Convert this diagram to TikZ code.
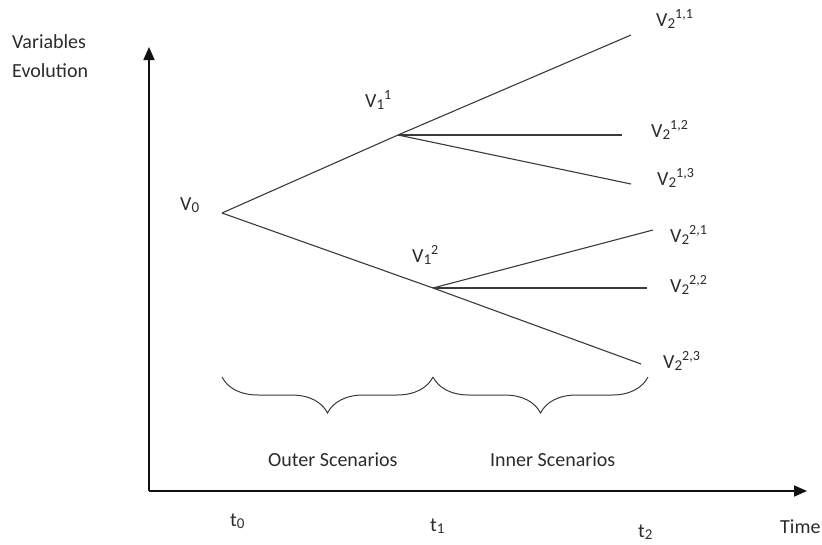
\documentclass[tikz,border=0pt]{standalone}
\usepackage{fontspec}
\setmainfont{Carlito}
\usetikzlibrary{arrows.meta,decorations.pathreplacing}
\definecolor{axisblack}{HTML}{111111}
\definecolor{branchgray}{HTML}{3A3A3A}
\definecolor{labelink}{HTML}{2B2B2B}
\newcommand{\vlo}[1]{\raisebox{-2pt}{\fontsize{15}{15}\selectfont #1}}
\newcommand{\vhi}[1]{\raisebox{8pt}{\fontsize{14}{14}\selectfont #1}}

\begin{document}
\begin{tikzpicture}[
  x=1pt, y=-1pt,
  every node/.style={font=\fontsize{20}{24}\selectfont, text=labelink, inner sep=0pt, anchor=base west},
  axis/.style={-{Triangle[length=13pt,width=11pt]}, line width=1.7pt, color=axisblack},
  branch/.style={line width=1.1pt, color=branchgray},
  bracket/.style={decorate, decoration={brace, mirror, amplitude=36pt}, line width=1pt, color=branchgray},
]
  \useasboundingbox (0,0) rectangle (822,544);

  % axes
  \coordinate (origin) at (149,491);
  \coordinate (ytip) at (149,47);
  \coordinate (xtip) at (807,491);
  \draw[axis] (origin) -- (ytip);
  \draw[axis] (origin) -- (xtip);

  % tree points
  \coordinate (v0) at (222,213);
  \coordinate (v11) at (398,135);
  \coordinate (v12) at (433,288);
  \coordinate (e11) at (631,35);
  \coordinate (e12) at (622,135);
  \coordinate (e13) at (631,184);
  \coordinate (e21) at (653,230);
  \coordinate (e22) at (647,288);
  \coordinate (e23) at (641,364);

  \draw[branch] (v0) -- (v11);
  \draw[branch] (v0) -- (v12);
  \draw[branch] (v11) -- (e11);
  \draw[branch] (v11) -- (e12);
  \draw[branch] (v11) -- (e13);
  \draw[branch] (v12) -- (e21);
  \draw[branch] (v12) -- (e22);
  \draw[branch] (v12) -- (e23);

  % labels
  \node (yl1) at (12,48) {Variables};
  \node (yl2) at (12,77) {Evolution};
  \node (l0) at (180,210) {V\vlo{0}};
  \node (l11) at (365,107) {V\vlo{1}\vhi{1}};
  \node (l12) at (412,262) {V\vlo{1}\vhi{2}};
  \node (l211) at (656,26) {V\vlo{2}\vhi{1,1}};
  \node (l212) at (651,137) {V\vlo{2}\vhi{1,2}};
  \node (l213) at (657,185) {V\vlo{2}\vhi{1,3}};
  \node (l221) at (670,242) {V\vlo{2}\vhi{2,1}};
  \node (l222) at (670,292) {V\vlo{2}\vhi{2,2}};
  \node (l223) at (663,368) {V\vlo{2}\vhi{2,3}};

  % braces
  \coordinate (b0) at (222,377);
  \coordinate (b1) at (433,377);
  \coordinate (b2) at (648,377);
  \draw[bracket] (b0) -- (b1);
  \draw[bracket] (b1) -- (b2);
  \node (outer) at (268,466) {Outer Scenarios};
  \node (inner) at (490,466) {Inner Scenarios};

  % time axis
  \node (t0) at (230,526) {t\vlo{0}};
  \node (t1) at (430,531) {t\vlo{1}};
  \node (t2) at (638,537) {t\vlo{2}};
  \node (time) at (780,533) {Time};
\end{tikzpicture}
\end{document}
